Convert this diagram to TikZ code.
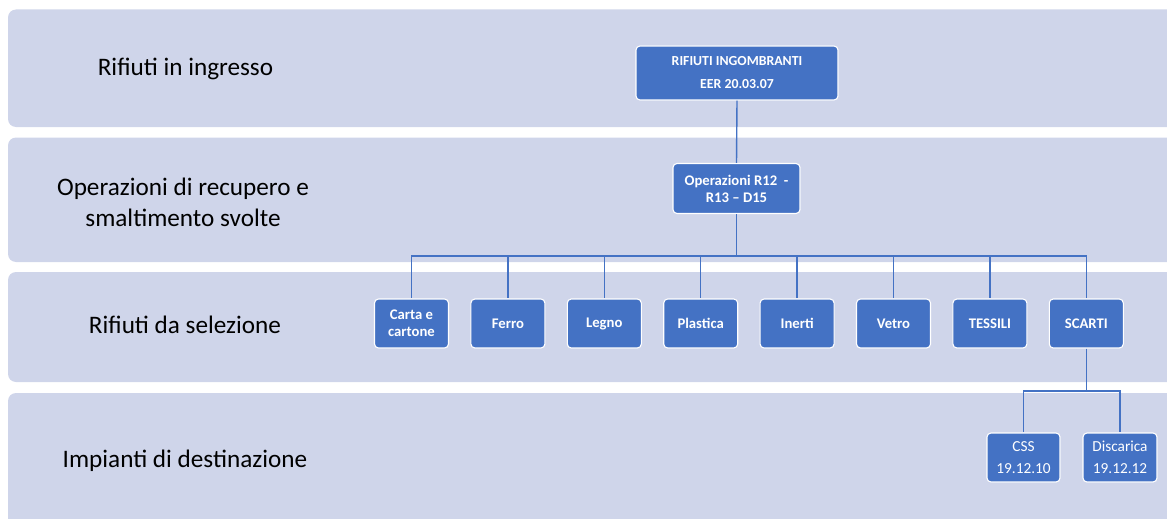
\documentclass[tikz,border=0pt]{standalone}
\usepackage{fontspec}
\setmainfont{Carlito}
\definecolor{bandfill}{HTML}{CFD5EA}
\definecolor{boxfill}{HTML}{4472C4}
\definecolor{wire}{HTML}{4472C4}
\tikzset{
  band/.style={fill=bandfill, draw=none, rounded corners=8pt},
  lane/.style={font=\fontsize{25.2}{31}\selectfont, text=black, align=center, inner sep=0pt},
  box/.style={fill=boxfill, draw=white, line width=1.1pt, rounded corners=4pt,
    text=white, align=center, inner sep=0pt},
  boldbox/.style={box, font=\bfseries\fontsize{14.7}{17}\selectfont},
  plainbox/.style={box, font=\fontsize{15.3}{22}\selectfont},
  wireline/.style={draw=wire, line width=1.4pt}
}
\begin{document}
\begin{tikzpicture}[x=1pt,y=-1pt]
\useasboundingbox (0,0) rectangle (1167,519);
\begin{scope}
\clip (0,0) rectangle (1167,519);
% horizontal swim lanes
\path[band] (8,9.5) rectangle (1190,127);
\path[band] (8,137.5) rectangle (1190,262);
\path[band] (8,272) rectangle (1190,382);
\path[band] (8,393) rectangle (1190,540);
\end{scope}

% lane titles
\node[lane, anchor=base] (t1) at (185.5,76) {Rifiuti in ingresso};
\node[lane, anchor=center] (t2) at (183,202) {Operazioni di recupero e\\smaltimento svolte};
\node[lane, anchor=base] (t3) at (185,333) {Rifiuti da selezione};
\node[lane, anchor=base] (t4) at (185,467) {Impianti di destinazione};

% incoming waste
\node[boldbox, minimum width=202pt, minimum height=54pt, font=\bfseries\fontsize{13.8}{23}\selectfont]
  (top) at (737,73) {RIFIUTI INGOMBRANTI\\EER 20.03.07};
% operations
\node[boldbox, minimum width=127pt, minimum height=50pt] (ops) at (736.5,188.5)
  {Operazioni R12\ \ -\\R13 -- D15};

% sorted fractions
\foreach \n/\x/\t in {c1/411.5/{Carta e\\cartone}, c2/507.9/Ferro, c3/604.3/Legno,
    c4/700.7/Plastica, c5/797.1/Inerti, c6/893.5/Vetro, c7/989.9/TESSILI, c8/1086.3/SCARTI}
  \node[boldbox, minimum width=74pt, minimum height=49pt] (\n) at (\x,323.5) {\t};

% destination plants
\node[plainbox, minimum width=73pt, minimum height=49pt] (d1) at (1023.5,457.5) {CSS\\19.12.10};
\node[plainbox, minimum width=74pt, minimum height=49pt] (d2) at (1120,457.5) {Discarica\\19.12.12};

% connectors
\coordinate (busA) at (736.5,256);
\coordinate (busB) at (1086.3,391);
\draw[wireline] (top.south) -- (ops.north);
\draw[wireline] (ops.south) -- (busA);
\foreach \n in {c1,c2,c3,c4,c5,c6,c7,c8}
  \draw[wireline] (busA) -| (\n.north);
\draw[wireline] (c8.south) -- (busB);
\draw[wireline] (busB) -| (d1.north);
\draw[wireline] (busB) -| (d2.north);
\end{tikzpicture}
\end{document}
